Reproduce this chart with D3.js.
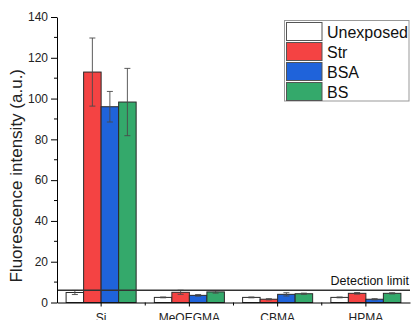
<!DOCTYPE html>
<html>
<head>
<meta charset="utf-8">
<script src="https://cdn.jsdelivr.net/npm/d3@7"></script>
<style>
  html, body { margin: 0; padding: 0; background: #fff; }
  svg { display: block; font-family: "Liberation Sans", Arial, sans-serif; }
</style>
</head>
<body>
<svg id="chart" width="411" height="320"></svg>
<script>
// Surfaces and exposure conditions
const categories = ["Si", "MeOEGMA", "CBMA", "HPMA"];
const series = ["Unexposed", "Str", "BSA", "BS"];
const colors = ["#ffffff", "#f44343", "#1f63da", "#34a96b"];

// Mean fluorescence intensity (a.u.) per surface, one array per condition
const unexposed = [4.9, 2.5, 2.5, 2.5];
const str = [113, 5.0, 1.6, 4.5];
const bsa = [96, 3.5, 4.0, 1.6];
const bs = [98.3, 5.2, 4.3, 4.5];

// Standard deviations
const unexposedErr = [1.0, 0.2, 0.2, 0.2];
const strErr = [16.7, 1.0, 0.3, 0.4];
const bsaErr = [7.5, 0.4, 0.8, 0.3];
const bsErr = [16.5, 0.6, 0.3, 0.3];

const yTicks = [0, 20, 40, 60, 80, 100, 120, 140];
const detectionLimit = 6;

const values = [unexposed, str, bsa, bs];
const errors = [unexposedErr, strErr, bsaErr, bsErr];

const svg = d3.select("#chart");
const plotLeft = 57, plotRight = 410, plotTop = 17, plotBottom = 302.5;

const x0 = d3.scaleBand().domain(categories).range([plotLeft, plotRight]).paddingInner(0).paddingOuter(0);
const x1 = d3.scaleBand().domain(series).range([0, x0.bandwidth()]).paddingInner(0).paddingOuter(0.52);
const y = d3.scaleLinear().domain([0, 140]).range([plotBottom, plotTop]);

// Bars
const rows = [];
categories.forEach((c, i) => {
  series.forEach((s, j) => {
    rows.push({ cat: c, ser: s, v: values[j][i], e: errors[j][i], color: colors[j] });
  });
});

svg.append("g").selectAll("rect").data(rows).join("rect")
  .attr("x", d => x0(d.cat) + x1(d.ser))
  .attr("y", d => y(d.v))
  .attr("width", x1.bandwidth())
  .attr("height", d => y(0) - y(d.v))
  .attr("fill", d => d.color)
  .attr("stroke", "#2a2a2a")
  .attr("stroke-width", 1);

// Error bars
const eg = svg.append("g").attr("stroke", "#4a4a4a").attr("stroke-width", 0.9);
rows.forEach(d => {
  const cx = x0(d.cat) + x1(d.ser) + x1.bandwidth() / 2;
  const y1 = y(d.v + d.e), y2 = y(d.v - d.e);
  eg.append("line").attr("x1", cx).attr("x2", cx).attr("y1", y1).attr("y2", y2);
  eg.append("line").attr("x1", cx - 3).attr("x2", cx + 3).attr("y1", y1).attr("y2", y1);
  eg.append("line").attr("x1", cx - 3).attr("x2", cx + 3).attr("y1", y2).attr("y2", y2);
});

// Detection limit
svg.append("line")
  .attr("x1", plotLeft).attr("x2", plotRight)
  .attr("y1", y(detectionLimit)).attr("y2", y(detectionLimit))
  .attr("stroke", "#333").attr("stroke-width", 1.4);
svg.append("text")
  .attr("x", 409).attr("y", y(detectionLimit) - 5)
  .attr("text-anchor", "end")
  .attr("font-size", 12.5)
  .attr("fill", "#111")
  .text("Detection limit");

// Y axis: labelled major ticks, unlabelled minor ticks
const yAxis = svg.append("g").attr("transform", `translate(${plotLeft},0)`)
  .call(d3.axisLeft(y).tickValues(yTicks).tickSize(6).tickPadding(3).tickSizeOuter(0));
yAxis.selectAll("text").attr("font-size", 12).attr("fill", "#222");
const minor = d3.range(10, 140, 20);
yAxis.selectAll(".minor").data(minor).join("line")
  .attr("class", "minor")
  .attr("x1", -3).attr("x2", 0)
  .attr("y1", d => y(d)).attr("y2", d => y(d))
  .attr("stroke", "#000");

// X axis
const xAxis = svg.append("g").attr("transform", `translate(0,${plotBottom})`)
  .call(d3.axisBottom(x0).tickSize(4).tickPadding(7).tickSizeOuter(0));
xAxis.selectAll("text").attr("font-size", 12).attr("fill", "#222");
const bounds = categories.slice(1).map(c => x0(c));
xAxis.selectAll(".minor").data(bounds).join("line")
  .attr("class", "minor")
  .attr("x1", d => d).attr("x2", d => d)
  .attr("y1", 0).attr("y2", 3)
  .attr("stroke", "#000");
svg.selectAll(".domain").attr("stroke", "#000").attr("stroke-width", 1);

// Y axis title
svg.append("text")
  .attr("transform", `translate(22,${(plotTop + plotBottom) / 2 + 16}) rotate(-90)`)
  .attr("text-anchor", "middle")
  .attr("font-size", 17)
  .attr("fill", "#222")
  .text("Fluorescence intensity (a.u.)");

// Legend
const lg = svg.append("g");
lg.append("rect")
  .attr("x", 284.5).attr("y", 20.5).attr("width", 124.5).attr("height", 80.5)
  .attr("fill", "#fff").attr("stroke", "#999").attr("stroke-width", 1);
series.forEach((s, j) => {
  const ry = 22.5 + j * 20;
  lg.append("rect")
    .attr("x", 286.5).attr("y", ry).attr("width", 35.5).attr("height", 18)
    .attr("fill", colors[j]).attr("stroke", "#555").attr("stroke-width", 1);
  lg.append("text")
    .attr("x", 327).attr("y", ry + 15)
    .attr("font-size", 16).attr("fill", "#111")
    .text(s);
});
</script>
</body>
</html>
